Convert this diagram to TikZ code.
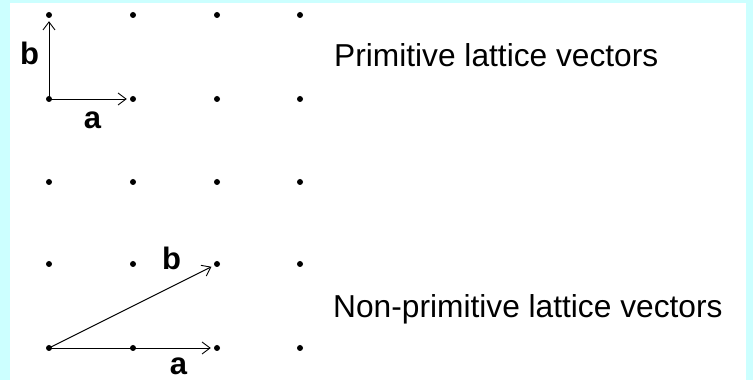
\documentclass[tikz,border=0pt]{standalone}
\usepackage{fontspec}
\setmainfont{Liberation Sans}
\usetikzlibrary{arrows.meta}
\definecolor{framecyan}{RGB}{204,255,255}
\tikzset{
	dot/.style = {circle, fill=black, inner sep=0pt, minimum size=6pt},
	vec/.style = {line width=0.9pt, -{Straight Barb[length=8pt, width=12pt, line width=0.9pt]}, shorten >=3pt},
	veclabel/.style = {anchor=base, inner sep=0pt, font=\fontsize{31}{37}\selectfont\bfseries},
	caption/.style = {anchor=base west, inner sep=0pt, font=\fontsize{31.7}{38}\selectfont}
}
\begin{document}
\begin{tikzpicture}[x=1pt, y=1pt]
		% frame
		\fill[framecyan] (0,0) rectangle (753,380);
		\fill[white] (10,0) rectangle (746,377);
		\useasboundingbox (0,0) rectangle (753,380);
		% lattice points
		\foreach \i/\x in {1/49, 2/133, 3/217, 4/300}
			\foreach \j/\y in {1/365, 2/281, 3/198, 4/116, 5/32}
				\node[dot] (d-\i-\j) at (\x,\y) {};
		% primitive vectors
		\draw[vec] (d-1-2.center) -- (d-2-2);
		\draw[vec] (d-1-2.center) -- (d-1-1);
		\node[veclabel] (pa) at (92.5,251) {a};
		\node[veclabel] (pb) at (29.5,315) {b};
		% non-primitive vectors
		\draw[vec] (d-1-5.center) -- (d-3-5);
		\draw[vec] (d-1-5.center) -- (d-3-4);
		\node[veclabel] (na) at (178.5,5) {a};
		\node[veclabel] (nb) at (171.5,110) {b};
		% captions
		\node[caption] (prim) at (334,313) {Primitive lattice vectors};
		\node[caption] (nonprim) at (333,62) {Non-primitive lattice vectors};
\end{tikzpicture}
\end{document}
